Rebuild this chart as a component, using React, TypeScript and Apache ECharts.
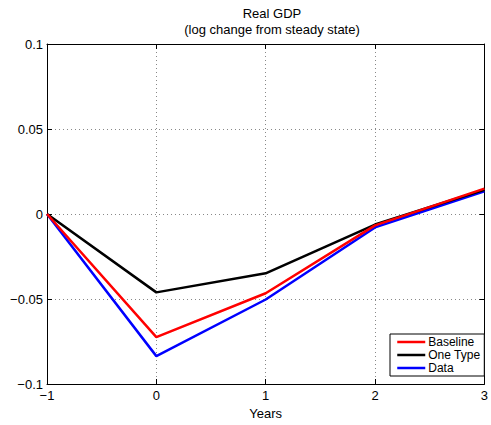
import React, { useEffect, useRef } from "react";
import * as echarts from "echarts";

const years = [-1, 0, 1, 2, 3];
const baseline = [0, -0.0724, -0.0466, -0.0067, 0.0149];
const oneType = [0, -0.0461, -0.0349, -0.0062, 0.0143];
const dataSeries = [0, -0.0836, -0.0503, -0.0079, 0.0134];
const seriesNames = ["Baseline", "One Type", "Data"];
const seriesColors = ["#ff0000", "#000000", "#0000ff"];

const FONT = "Liberation Sans, Arial, Helvetica, sans-serif";

function fmt(v: number): string {
  const s = String(Math.round(v * 1000) / 1000);
  return s.replace("-", "\u2212");
}

export default function App() {
  const ref = useRef<HTMLDivElement>(null);
  useEffect(() => {
    if (!ref.current) return;
    const chart = echarts.init(ref.current, undefined, { renderer: "svg" });
    const values = [baseline, oneType, dataSeries];
    const tickCommon = { show: true, inside: true, length: 5, lineStyle: { color: "#000", width: 1 } };
    const lineCommon = { show: true, onZero: false, lineStyle: { color: "#000", width: 1 } };
    chart.setOption({
      animation: false,
      backgroundColor: "#fff",
      title: {
        text: "Real GDP\n(log change from steady state)",
        left: 267,
        textAlign: "center",
        top: 0,
        textStyle: { fontFamily: FONT, fontSize: 13, fontWeight: "normal", color: "#000", lineHeight: 16 },
      },
      grid: { left: 47, right: 4, top: 44, bottom: 40, containLabel: false },
      legend: {
        data: seriesNames,
        orient: "vertical",
        left: 390,
        top: 334,
        padding: [2, 4, 2, 6],
        itemGap: 1,
        itemWidth: 28,
        itemHeight: 10,
        borderColor: "#000",
        borderWidth: 1,
        backgroundColor: "#fff",
        itemStyle: { opacity: 0 },
        lineStyle: { width: 2.5 },
        textStyle: { fontFamily: FONT, fontSize: 12, color: "#000", padding: [0, 0, 0, -2] },
      },
      xAxis: [
        {
          type: "value",
          min: -1,
          max: 3,
          interval: 1,
          name: "Years",
          nameLocation: "middle",
          nameGap: 23,
          nameTextStyle: { fontFamily: FONT, fontSize: 13, color: "#000" },
          axisLine: lineCommon,
          axisTick: tickCommon,
          axisLabel: { fontFamily: FONT, fontSize: 13, color: "#000", margin: 5, formatter: fmt },
          splitLine: { show: true, lineStyle: { color: "#888", type: [1, 3], width: 1 } },
        },
        {
          type: "value",
          position: "top",
          min: -1,
          max: 3,
          interval: 1,
          axisLine: lineCommon,
          axisTick: tickCommon,
          axisLabel: { show: false },
          splitLine: { show: false },
        },
      ],
      yAxis: [
        {
          type: "value",
          min: -0.1,
          max: 0.1,
          interval: 0.05,
          axisLine: lineCommon,
          axisTick: tickCommon,
          axisLabel: { fontFamily: FONT, fontSize: 13, color: "#000", margin: 4, formatter: fmt },
          splitLine: { show: true, lineStyle: { color: "#888", type: [1, 3], width: 1 } },
        },
        {
          type: "value",
          position: "right",
          min: -0.1,
          max: 0.1,
          interval: 0.05,
          axisLine: lineCommon,
          axisTick: tickCommon,
          axisLabel: { show: false },
          splitLine: { show: false },
        },
      ],
      series: seriesNames.map((name, i) => ({
        name,
        type: "line",
        xAxisIndex: 0,
        yAxisIndex: 0,
        data: years.map((x, j) => [x, values[i][j]]),
        symbol: "none",
        color: seriesColors[i],
        lineStyle: { color: seriesColors[i], width: 2.5 },
        z: 3 - i + 2,
      })),
    });
    return () => chart.dispose();
  }, []);
  return <div ref={ref} style={{ width: 491, height: 425, position: "absolute", left: 0, top: 0 }} />;
}
